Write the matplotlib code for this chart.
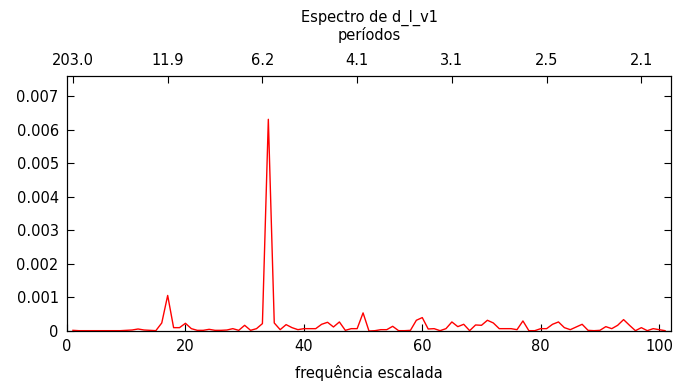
import numpy as np
import matplotlib
matplotlib.use("Agg")
import matplotlib.pyplot as plt

# scaled frequency 1..101 (n = 203)
freq = np.arange(1, 102)
dens = [
    0.00002, 0.00001, 0.00001, 0.00001, 0.00001, 0.00001, 0.00001, 0.00001, 0.00001, 0.00002,
    0.00003, 0.00006, 0.00003, 0.00002, 0.00001, 0.00024, 0.00106, 0.00010, 0.00010, 0.00023,
    0.00007, 0.00002, 0.00002, 0.00005, 0.00002, 0.00002, 0.00003, 0.00007, 0.00002, 0.00017,
    0.00002, 0.00007, 0.00022, 0.00631, 0.00024, 0.00004, 0.00019, 0.00010, 0.00004, 0.00007,
    0.00007, 0.00007, 0.00020, 0.00026, 0.00012, 0.00027, 0.00002, 0.00007, 0.00007, 0.00054,
    0.00000, 0.00001, 0.00004, 0.00004, 0.00014, 0.00001, 0.00001, 0.00002, 0.00032, 0.00040,
    0.00006, 0.00007, 0.00001, 0.00007, 0.00027, 0.00013, 0.00020, 0.00001, 0.00018, 0.00017,
    0.00032, 0.00024, 0.00007, 0.00007, 0.00007, 0.00004, 0.00030, 0.00001, 0.00001, 0.00007,
    0.00007, 0.00020, 0.00027, 0.00010, 0.00004, 0.00012, 0.00020, 0.00002, 0.00001, 0.00002,
    0.00013, 0.00007, 0.00017, 0.00034, 0.00017, 0.00001, 0.00010, 0.00001, 0.00007, 0.00004,
    0.00001,
]
n_obs = 203
top_pos = [1, 17, 33, 49, 65, 81, 97]
top_labels = ["%.1f" % (n_obs / k) for k in top_pos]

fig = plt.figure(figsize=(6.75, 3.84), dpi=100)
ax = fig.add_axes([0.0993, 0.138, 0.8947, 0.664])
ax.plot(freq, dens, color="red", lw=1.0)

ax.set_xlim(0, 102)
ax.set_ylim(0, 0.0076)
ax.set_xticks([0, 20, 40, 60, 80, 100])
ax.set_yticks([0, 0.001, 0.002, 0.003, 0.004, 0.005, 0.006, 0.007])
ax.set_yticklabels(["0", "0.001", "0.002", "0.003", "0.004", "0.005", "0.006", "0.007"])
ax.tick_params(direction="in", length=5, labelsize=10.5, right=True, top=False, pad=6)
ax.set_xlabel("frequência escalada", fontsize=10.5, labelpad=8)

top = ax.twiny()
top.set_xlim(ax.get_xlim())
top.set_xticks(top_pos)
top.set_xticklabels(top_labels)
top.tick_params(direction="in", length=5, labelsize=10.5, pad=6)

fig.text(0.547, 0.932, "Espectro de d_l_v1\nperíodos", ha="center", va="center",
         fontsize=10.5, linespacing=1.05)

fig.savefig("out.png", dpi=100)
